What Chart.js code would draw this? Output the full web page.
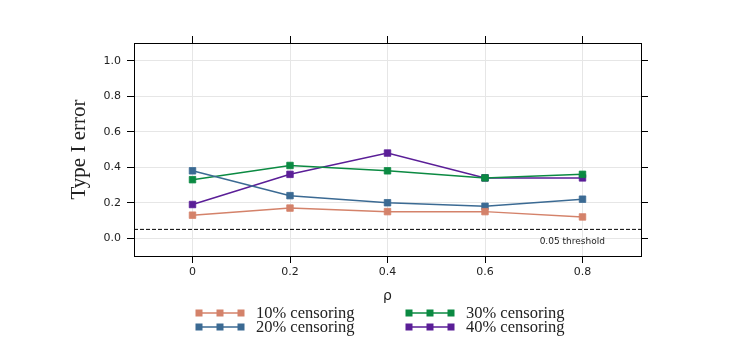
<!DOCTYPE html>
<html><head><meta charset="utf-8">
<script src="https://cdn.jsdelivr.net/npm/chart.js@4.4.0/dist/chart.umd.min.js"></script>
<style>
html,body{margin:0;padding:0;background:#fff;}
#wrap{position:relative;width:748px;height:349px;}
#c{position:absolute;left:0;top:0;}
.leg{position:absolute;font-family:"Liberation Serif",serif;font-size:16.5px;color:#222;display:flex;align-items:center;white-space:nowrap;line-height:14px;}
.leg svg{margin-right:9px;}
</style></head>
<body>
<div id="wrap"><canvas id="c" width="748" height="349"></canvas></div>
<script>
const rho = [0, 0.2, 0.4, 0.6, 0.8];
const seriesNames = ["10% censoring", "20% censoring", "30% censoring", "40% censoring"];
const seriesColors = ["#d4826a", "#3b6a93", "#0b8a42", "#5a1e97"];
const cens10 = [0.13, 0.17, 0.15, 0.15, 0.12];
const cens20 = [0.38, 0.24, 0.20, 0.18, 0.22];
const cens30 = [0.33, 0.41, 0.38, 0.34, 0.36];
const cens40 = [0.19, 0.36, 0.48, 0.34, 0.34];
const xTicks = [0, 0.2, 0.4, 0.6, 0.8];
const yTicks = [0.0, 0.2, 0.4, 0.6, 0.8, 1.0];
const threshold = [0.05];
const thresholdLabel = "0.05 threshold";

const allSeries = [cens10, cens20, cens30, cens40];
const datasets = allSeries.map((s, i) => ({
  label: seriesNames[i],
  data: s.map((v, j) => ({x: rho[j], y: v})),
  borderColor: seriesColors[i],
  backgroundColor: seriesColors[i],
  pointBackgroundColor: seriesColors[i],
  pointBorderColor: seriesColors[i] + "cc",
  pointBorderWidth: 1,
  pointStyle: 'rect',
  pointRadius: 4.6,
  borderWidth: 1.5,
  tension: 0,
  xAxisID: 'x', yAxisID: 'y'
}));

const thresholdPlugin = {
  id: 'thr',
  beforeDatasetsDraw(chart) {
    const {ctx, chartArea, scales} = chart;
    const y = scales.y.getPixelForValue(threshold[0]);
    ctx.save();
    ctx.strokeStyle = '#000';
    ctx.lineWidth = 1;
    ctx.setLineDash([4, 2]);
    ctx.beginPath();
    ctx.moveTo(chartArea.left, y);
    ctx.lineTo(chartArea.right, y);
    ctx.stroke();
    ctx.setLineDash([]);
    ctx.fillStyle = '#222';
    ctx.font = '9px "DejaVu Sans"';
    ctx.textAlign = 'right';
    ctx.textBaseline = 'middle';
    ctx.fillText(thresholdLabel, scales.x.getPixelForValue(0.846), y + 12);
    ctx.restore();
  }
};

const tickFont = {family: '"DejaVu Sans"', size: 11};
const setX = s => { s.ticks = xTicks.map(v => ({value: v})); };
const setY = s => { s.ticks = yTicks.map(v => ({value: v})); };

new Chart(document.getElementById('c'), {
  type: 'line',
  data: {datasets},
  plugins: [thresholdPlugin],
  options: {
    responsive: false,
    animation: false,
    layout: {padding: 0},
    plugins: {legend: {display: false}, tooltip: {enabled: false}},
    scales: {
      x: {
        type: 'linear', position: 'bottom', min: -0.12, max: 0.92,
        afterBuildTicks: setX,
        afterFit: s => { s.height = 93; },
        ticks: {font: tickFont, color: '#222', padding: 3, maxRotation: 0,
          callback: v => v === 0 ? '0' : v.toFixed(1)},
        grid: {color: '#e6e6e6', tickColor: '#000', tickLength: 7, lineWidth: 1},
        border: {display: true, color: '#000', width: 1},
        title: {display: true, text: 'ρ', font: {family: '"DejaVu Sans"', size: 14}, color: '#222', padding: {top: 0, bottom: 44}}
      },
      x2: {
        type: 'linear', position: 'top', min: -0.12, max: 0.92,
        afterBuildTicks: setX,
        afterFit: s => { s.height = 43; },
        ticks: {display: false},
        grid: {drawOnChartArea: false, tickColor: '#000', tickLength: 7},
        border: {display: true, color: '#000', width: 1}
      },
      y: {
        type: 'linear', position: 'left', min: -0.1, max: 1.1,
        afterBuildTicks: setY,
        afterFit: s => { s.width = 134; },
        ticks: {font: tickFont, color: '#222', padding: 6, callback: v => v.toFixed(1)},
        grid: {color: '#e6e6e6', tickColor: '#000', tickLength: 7, lineWidth: 1},
        border: {display: true, color: '#000', width: 1},
        title: {display: true, text: 'Type I error', font: {family: '"Liberation Serif"', size: 21}, color: '#222', padding: {top: 67, bottom: 0}}
      },
      y2: {
        type: 'linear', position: 'right', min: -0.1, max: 1.1,
        afterBuildTicks: setY,
        afterFit: s => { s.width = 107; },
        ticks: {display: false},
        grid: {drawOnChartArea: false, tickColor: '#000', tickLength: 7},
        border: {display: true, color: '#000', width: 1}
      }
    }
  }
});

// legend
const legPos = [[195, 313], [195, 327], [405, 313], [405, 327]];
const wrap = document.getElementById('wrap');
seriesNames.forEach((name, i) => {
  const d = document.createElement('div');
  d.className = 'leg';
  d.style.left = legPos[i][0] + 'px';
  d.style.top = (legPos[i][1] - 7) + 'px';
  const c = seriesColors[i];
  d.innerHTML = '<svg width="52" height="12" viewBox="0 0 52 12">' +
    '<line x1="3" y1="6" x2="49" y2="6" stroke="' + c + '" stroke-width="1.5"/>' +
    [4, 25, 46].map(x => '<rect x="' + (x - 3.5) + '" y="2.5" width="7" height="7" fill="' + c + '"/>').join('') +
    '</svg><span>' + name + '</span>';
  wrap.appendChild(d);
});
</script>
</body></html>
